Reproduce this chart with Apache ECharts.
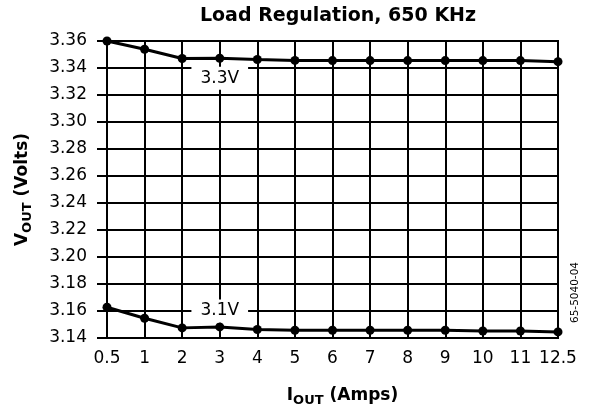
<!DOCTYPE html>
<html><head><meta charset="utf-8">
<script src="https://cdn.jsdelivr.net/npm/echarts@6/dist/echarts.min.js"></script>
<style>html,body{margin:0;padding:0;background:#fff}#c{width:591px;height:406px}</style>
</head><body><div id="c"></div>
<script>
const categories = ['0.5','1','2','3','4','5','6','7','8','9','10','11','12.5'];
const v33 = [3.3600, 3.3539, 3.3470, 3.3472, 3.3463, 3.3456, 3.3455, 3.3455, 3.3455, 3.3455, 3.3455, 3.3455, 3.3447];
const v31 = [3.1628, 3.1546, 3.1475, 3.1482, 3.1463, 3.1457, 3.1457, 3.1457, 3.1457, 3.1457, 3.1452, 3.1452, 3.1445];
const yMin = 3.14, yMax = 3.36, yStep = 0.02;
const label33 = {text: '3.3V', cat: '3', value: 3.3325};
const label31 = {text: '3.1V', cat: '3', value: 3.1600};

const FONT = 'DejaVu Sans';
const chart = echarts.init(document.getElementById('c'), null, {renderer: 'canvas'});
function lineSeries(name, data, lab) {
  return {
    name, type: 'line', data, symbol: 'circle', symbolSize: 9,
    lineStyle: {color: '#000', width: 3}, itemStyle: {color: '#000'},
    animation: false,
    markPoint: {
      symbol: 'circle', symbolSize: 0, animation: false,
      label: {show: true, formatter: lab.text, color: '#000', fontFamily: FONT, fontSize: 17,
              backgroundColor: '#fff', padding: [3, 9, 3, 9], position: 'inside'},
      data: [{coord: [lab.cat, lab.value]}]
    }
  };
}
chart.setOption({
  backgroundColor: '#fff',
  animation: false,
  title: {text: 'Load Regulation, 650 KHz', left: 333, top: 2, textAlign: 'center',
          textStyle: {fontFamily: FONT, fontSize: 19, fontWeight: 'bold', color: '#000'}},
  grid: {left: 107, right: 33, top: 41, bottom: 68, show: true, borderColor: '#000', borderWidth: 2,
         containLabel: false, outerBoundsMode: 'none'},
  xAxis: {
    type: 'category', data: categories, boundaryGap: false,
    axisLine: {lineStyle: {color: '#000', width: 2}},
    axisTick: {show: false},
    axisLabel: {color: '#000', fontFamily: FONT, fontSize: 17, margin: 12, interval: 0},
    splitLine: {show: true, interval: 0, lineStyle: {color: '#000', width: 2}},
    name: '{b|I}{s|OUT}{b| (Amps)}', nameLocation: 'middle', nameGap: 46,
    nameTextStyle: {color: '#000', padding: [0, 0, 0, 20], rich: {
      b: {fontFamily: FONT, fontSize: 17, fontWeight: 'bold', color: '#000'},
      s: {fontFamily: FONT, fontSize: 13, fontWeight: 'bold', color: '#000', padding: [10, 0, 0, 0]}
    }}
  },
  yAxis: {
    type: 'value', min: yMin, max: yMax, interval: yStep,
    axisLine: {show: true, lineStyle: {color: '#000', width: 2}},
    axisTick: {show: true, length: 10, lineStyle: {color: '#000', width: 2}},
    axisLabel: {color: '#000', fontFamily: FONT, fontSize: 17, margin: 20,
                formatter: v => v.toFixed(2)},
    splitLine: {show: true, lineStyle: {color: '#000', width: 2}},
    name: '{b|V}{s|OUT}{b| (Volts)}', nameLocation: 'middle', nameGap: 73, nameRotate: 90,
    nameTextStyle: {color: '#000', rich: {
      b: {fontFamily: FONT, fontSize: 17, fontWeight: 'bold', color: '#000'},
      s: {fontFamily: FONT, fontSize: 13, fontWeight: 'bold', color: '#000', padding: [10, 0, 0, 0]}
    }}
  },
  graphic: [{type: 'text', right: 10, top: 262, rotation: Math.PI / 2,
             style: {text: '65-5040-04', fontFamily: FONT, fontSize: 10.5, fill: '#000'}}],
  series: [lineSeries('3.3V', v33, label33), lineSeries('3.1V', v31, label31)]
});
</script></body></html>
